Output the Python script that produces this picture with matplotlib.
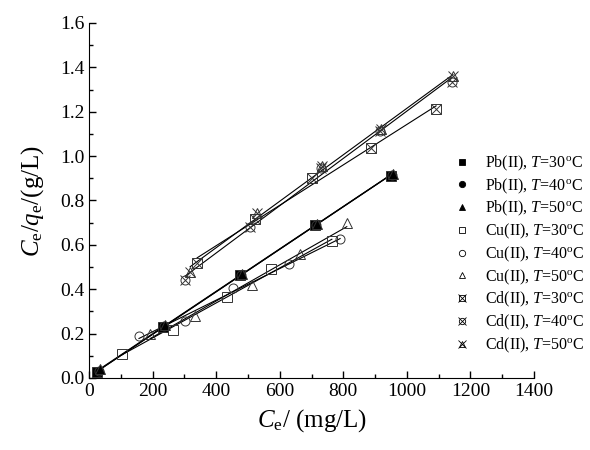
import numpy as np
import matplotlib
matplotlib.use("Agg")
import matplotlib.pyplot as plt
from matplotlib.ticker import MultipleLocator
from matplotlib.lines import Line2D

plt.rcParams['font.family'] = ['Liberation Serif', 'DejaVu Serif']
plt.rcParams['mathtext.fontset'] = 'custom'
plt.rcParams['mathtext.rm'] = 'Liberation Serif'
plt.rcParams['mathtext.it'] = 'Liberation Serif:italic'

# Ce (mg/L) and Ce/qe (g/L) for each metal / temperature
pb30_x = [25, 233, 475, 711, 950]
pb30_y = [0.025, 0.232, 0.462, 0.688, 0.912]
pb40_x = [30, 235, 478, 713, 952]
pb40_y = [0.030, 0.235, 0.465, 0.690, 0.915]
pb50_x = [35, 238, 480, 716, 955]
pb50_y = [0.040, 0.238, 0.468, 0.694, 0.920]

cu30_x = [104, 264, 434, 572, 764]
cu30_y = [0.110, 0.218, 0.365, 0.490, 0.617]
cu40_x = [157, 302, 453, 629, 790]
cu40_y = [0.188, 0.257, 0.405, 0.514, 0.626]
cu50_x = [192, 333, 513, 664, 811]
cu50_y = [0.198, 0.280, 0.418, 0.559, 0.698]

cd30_x = [340, 522, 702, 887, 1092]
cd30_y = [0.520, 0.717, 0.900, 1.037, 1.212]
cd40_x = [302, 506, 729, 915, 1141]
cd40_y = [0.440, 0.680, 0.945, 1.115, 1.334]
cd50_x = [318, 528, 733, 920, 1145]
cd50_y = [0.478, 0.744, 0.955, 1.120, 1.360]

labels = [r'Pb(II), $T$=30$^{\rm o}$C', r'Pb(II), $T$=40$^{\rm o}$C', r'Pb(II), $T$=50$^{\rm o}$C',
          r'Cu(II), $T$=30$^{\rm o}$C', r'Cu(II), $T$=40$^{\rm o}$C', r'Cu(II), $T$=50$^{\rm o}$C',
          r'Cd(II), $T$=30$^{\rm o}$C', r'Cd(II), $T$=40$^{\rm o}$C', r'Cd(II), $T$=50$^{\rm o}$C']

series = [
    (pb30_x, pb30_y, ['s'], 'k'),
    (pb40_x, pb40_y, ['o'], 'k'),
    (pb50_x, pb50_y, ['^'], 'k'),
    (cu30_x, cu30_y, ['s'], 'none'),
    (cu40_x, cu40_y, ['o'], 'none'),
    (cu50_x, cu50_y, ['^'], 'none'),
    (cd30_x, cd30_y, ['s', 'x'], 'none'),
    (cd40_x, cd40_y, ['o', 'x'], 'none'),
    (cd50_x, cd50_y, ['^', 'x'], 'none'),
]

fig = plt.figure(figsize=(5.9, 4.5), dpi=100)
ax = fig.add_axes([0.151, 0.16, 0.754, 0.789])

handles = []
for (xs, ys, mks, fc) in series:
    xs = np.array(xs)
    ys = np.array(ys)
    k, b = np.polyfit(xs, ys, 1)
    xx = np.array([xs.min(), xs.max()])
    ax.plot(xx, k * xx + b, color='k', lw=0.8, zorder=2)
    parts = []
    for m in mks:
        ms = 7.5 if m == 'x' else 6.5
        ax.plot(xs, ys, ls='none', marker=m, ms=ms, mfc=fc, mec='#333333', mew=0.7, zorder=3)
        parts.append(Line2D([], [], ls='none', marker=m, ms=ms * 0.7, mfc=fc, mec='k', mew=0.6))
    handles.append(tuple(parts) if len(parts) > 1 else parts[0])

ax.set_xlim(0, 1400)
ax.set_ylim(0, 1.6)
ax.xaxis.set_major_locator(MultipleLocator(200))
ax.xaxis.set_minor_locator(MultipleLocator(100))
ax.yaxis.set_major_locator(MultipleLocator(0.2))
ax.yaxis.set_minor_locator(MultipleLocator(0.1))
ax.yaxis.set_major_formatter(matplotlib.ticker.FormatStrFormatter('%.1f'))
ax.spines['top'].set_visible(False)
ax.spines['right'].set_visible(False)
ax.tick_params(which='both', direction='in', labelsize=14, width=1)
ax.tick_params(which='major', length=5)
ax.tick_params(which='minor', length=3)

ax.set_xlabel(r'$C_{\rm e}$/ (mg/L)', fontsize=18, labelpad=5)
ax.set_ylabel(r'$C_{\rm e}/q_{\rm e}$/(g/L)', fontsize=18, labelpad=10)

fig.legend(handles, labels, loc='center left', bbox_to_anchor=(0.757, 0.435),
           frameon=False, fontsize=11.5, labelspacing=0.22, handlelength=1.1,
           handletextpad=0.9, borderaxespad=0)

fig.savefig('out.png', dpi=100)
